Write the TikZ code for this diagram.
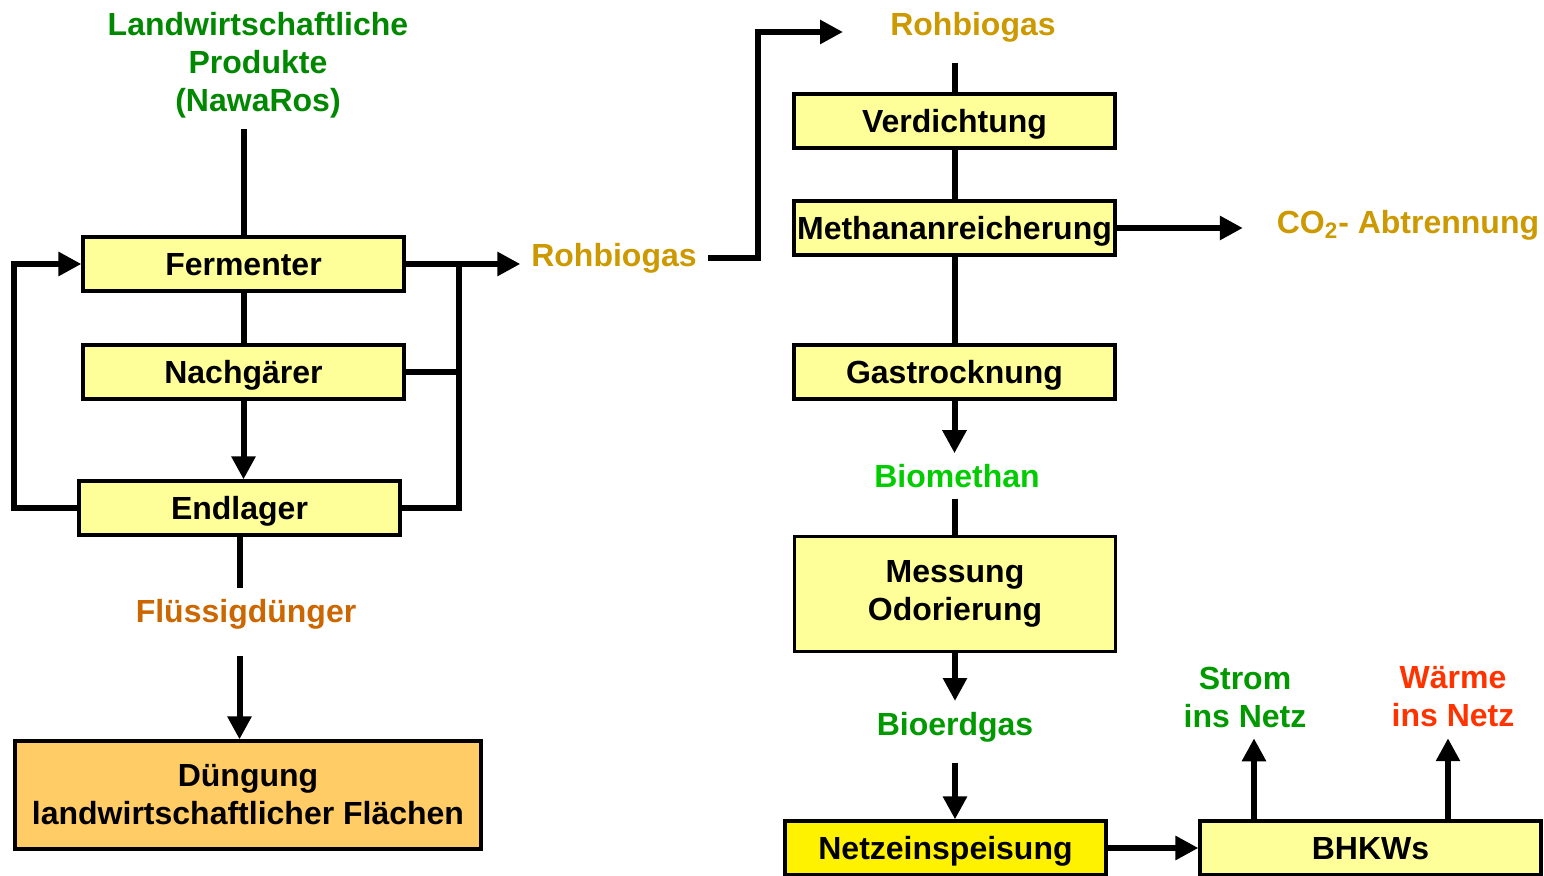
\documentclass[tikz,border=0pt]{standalone}
\usepackage{fontspec}
\setmainfont{Liberation Sans}
\usetikzlibrary{arrows.meta,positioning}

\definecolor{boxyellow}{RGB}{255,255,153}
\definecolor{duengorange}{RGB}{255,204,102}
\definecolor{nawagreen}{RGB}{0,136,0}
\definecolor{netzgreen}{RGB}{0,153,0}
\definecolor{biogreen}{RGB}{0,204,0}
\definecolor{gasgold}{RGB}{204,153,0}
\definecolor{duengerbrown}{RGB}{204,102,0}
\definecolor{waermered}{RGB}{255,51,0}

\begin{document}
\begin{tikzpicture}[x=0.5pt,y=-0.5pt,line width=3pt,>={Triangle[length=11.5pt,width=11.5pt]},
    font=\fontsize{16}{19}\selectfont\bfseries,align=center,
    stage/.style={draw,line width=1.6pt,fill=boxyellow,minimum width=160.5pt,minimum height=27pt,inner sep=1pt,text height=11.5pt,text depth=0pt},
    bigstage/.style={stage,text height=,text depth=},
    lbl/.style={inner sep=4pt,yshift=-1.5pt}]
                \useasboundingbox (0,0) rectangle (1544,876);
                \node[lbl,text=nawagreen] (nawaros) at (258,62) {Landwirtschaftliche\\Produkte\\(NawaRos)};
                \node[stage] (ferm) at (243.5,264) {Fermenter};
                \node[stage] (nachg) at (243.5,372) {Nachgärer};
                \node[stage] (endl) at (239.5,508) {Endlager};
                \node[lbl,text=duengerbrown] (fluessig) at (246,611) {Flüssigdünger};
                \node[bigstage,fill=duengorange,minimum width=233pt,minimum height=54pt] (dueng) at (248,795) {Düngung\\landwirtschaftlicher Flächen};
                \node[lbl,text=gasgold] (rohgas) at (614,255) {Rohbiogas};
                \coordinate (bus) at (459,264);
                \coordinate (rohin) at (843,32);
                \node[lbl,text=gasgold] (rohgas2) at (973,24) {Rohbiogas};
                \node[stage] (verd) at (954.5,121) {Verdichtung};
                \node[stage] (methan) at (954.5,228) {Methananreicherung};
                \node[lbl,text=gasgold] (co2) at (1408,222) {CO\textsubscript{2}- Abtrennung};
                \node[stage] (trock) at (954.5,372) {Gastrocknung};
                \node[lbl,text=biogreen] (biometh) at (957,473) {Biomethan};
                \node[bigstage,minimum height=57.5pt] (odor) at (955,594) {Messung\\Odorierung};
                \node[lbl,text=netzgreen] (bioerd) at (955,724) {Bioerdgas};
                \node[stage,fill=yellow] (einsp) at (945.5,848) {Netzeinspeisung};
                \node[stage,minimum width=170.5pt] (bhkw) at (1370.5,848) {BHKWs};
                \node[lbl,text=netzgreen] (strom) at (1245,694) {Strom\\ins Netz};
                \node[lbl,text=waermered] (waerme) at (1453,694) {Wärme\\ins Netz};

                \draw (ferm.north) -- (ferm.north |- nawaros.south);
                \path (ferm) edge (nachg);
                \draw[->] (nachg.south) -- (nachg.south |- endl.north);
                \draw (endl.south) -- (endl.south |- fluessig.north);
                \draw[->,shorten <=8pt] (fluessig.south -| endl.south) -- (endl.south |- dueng.north);
                \draw[->] (endl.west) -- ++(-63,0) |- (ferm.west);
                \draw (endl.east) -| (bus) -- (ferm.east);
                \draw (nachg.east) -- (nachg.east -| bus);
                \draw[->] (ferm.east) -- (ferm.east -| rohgas.west);
                \draw[->] (rohgas.east) -- ++(50,0) |- (rohin);
                \draw[shorten >=5pt] (verd.north) -- (verd.north |- rohgas2.south);
                \path (verd) edge (methan)
                      (methan) edge (trock);
                \draw[->,shorten >=11.5pt] (methan.east) -- (methan.east -| co2.west);
                \draw[->] (trock.south) -- (trock.south |- biometh.north);
                \draw (biometh.south -| odor.north) -- (odor.north);
                \draw[->] (odor.south) -- (odor.south |- bioerd.north);
                \draw[->,shorten <=5pt] (bioerd.south) -- (bioerd.south |- einsp.north);
                \draw[->] (einsp) -- (bhkw);
                \draw[->] ([xshift=-58.25pt]bhkw.north) -- ([xshift=-58.25pt]bhkw.north |- strom.south);
                \draw[->] ([xshift=38.75pt]bhkw.north) -- ([xshift=38.75pt]bhkw.north |- waerme.south);
            \end{tikzpicture}
\end{document}
